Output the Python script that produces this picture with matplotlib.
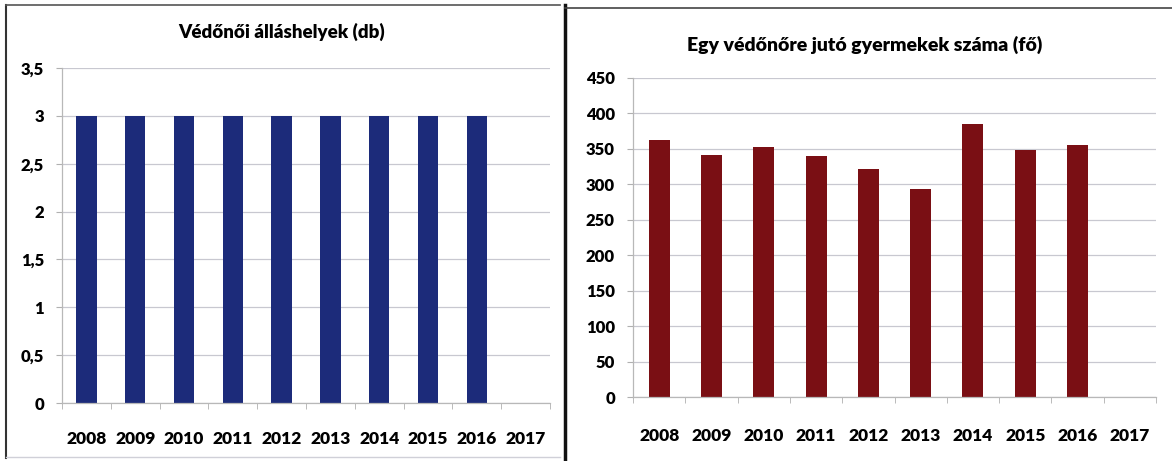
import matplotlib.pyplot as plt
from matplotlib.lines import Line2D
import numpy as np

plt.rcParams['font.family'] = ['Lato', 'DejaVu Sans']

years = ['2008', '2009', '2010', '2011', '2012', '2013', '2014', '2015', '2016', '2017']
allashelyek = [3, 3, 3, 3, 3, 3, 3, 3, 3, 0]
gyermek_per_vedono = [362, 341, 353, 340, 322, 293, 385, 349, 355, 0]

left_title = 'Védőnői álláshelyek (db)'
right_title = 'Egy védőnőre jutó gyermekek száma (fő)'

W, H = 1172, 461
fig = plt.figure(figsize=(W / 100, H / 100), dpi=100)
fig.patch.set_facecolor('white')

WEIGHT = 'heavy'


def px_axes(x0, y0, x1, y1):
    # pixel box (top-left origin) -> figure axes
    return fig.add_axes([x0 / W, 1 - y1 / H, (x1 - x0) / W, (y1 - y0) / H])


def style(ax, ymax, step, fmt, xpad):
    x = np.arange(len(years))
    ax.set_xlim(-0.5, len(years) - 0.5)
    ax.set_ylim(0, ymax)
    ticks = np.arange(0, ymax + step / 2, step)
    ax.set_yticks(ticks)
    ax.set_yticklabels([fmt(t) for t in ticks], fontsize=12, fontweight=WEIGHT)
    ax.set_xticks(x)
    ax.set_xticklabels(years, fontsize=12.5, fontweight=WEIGHT)
    ax.tick_params(axis='x', length=0, pad=xpad)
    ax.tick_params(axis='y', length=4, color='#b0b0b0', pad=9)
    ax.set_xticks(np.arange(-0.5, len(years), 1), minor=True)
    ax.tick_params(axis='x', which='minor', length=4, color='#b0b0b0')
    ax.grid(axis='y', color='#c8c8d0', linewidth=0.9)
    ax.set_axisbelow(True)
    for s in ['top', 'right']:
        ax.spines[s].set_visible(False)
    for s in ['left', 'bottom']:
        ax.spines[s].set_color('#b8b8b8')
        ax.spines[s].set_linewidth(0.9)


def fmt_left(t):
    return ('%g' % t).replace('.', ',')


ax1 = px_axes(62, 68, 550, 403)
ax1.bar(np.arange(len(years)), allashelyek, width=0.42, color='#1c2b7a')
style(ax1, 3.5, 0.5, fmt_left, 20)
fig.text(282 / W, 1 - 32 / H, left_title, ha='center', va='center',
         fontsize=13.5, fontweight=WEIGHT)

ax2 = px_axes(633, 78, 1156, 397)
ax2.bar(np.arange(len(years)), gyermek_per_vedono, width=0.4, color='#7a0f14')
style(ax2, 450, 50, lambda t: '%d' % t, 22)
fig.text(865 / W, 1 - 45 / H, right_title, ha='center', va='center',
         fontsize=14, fontweight=WEIGHT)


# panel frames
def fline(xs, ys, **kw):
    fig.add_artist(Line2D([x / W for x in xs], [1 - y / H for y in ys],
                          transform=fig.transFigure, **kw))


fline([6, 6], [5, 458], color='#333333', linewidth=1.5)
fline([6, 560], [5, 5], color='#555555', linewidth=1.2)
fline([6, 560], [457, 457], color='#d0d0d8', linewidth=1.0)
fline([565, 565], [5, 461], color='#111111', linewidth=2.5)
fline([565, 1172], [8, 8], color='#444444', linewidth=1.2)

fig.savefig('out.png', dpi=100)
